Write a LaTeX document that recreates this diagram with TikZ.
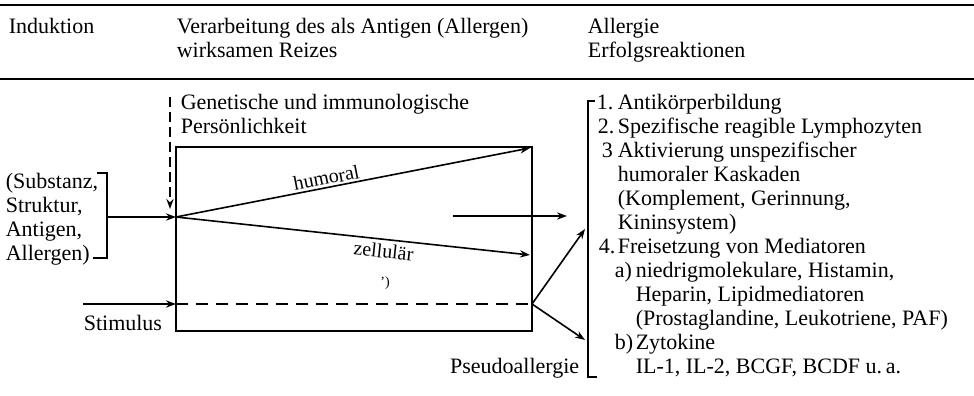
\documentclass[tikz,border=0pt]{standalone}
\usepackage{fontspec}
\setmainfont{Liberation Serif}
\usetikzlibrary{arrows.meta}

\begin{document}
\begin{tikzpicture}[x=0.5pt,y=-0.5pt,line width=0.8pt,
  >={Stealth[length=5pt,width=3.6pt]},
  every node/.style={font=\fontsize{11}{12}\selectfont,inner sep=0pt,anchor=base west},
  pathlabel/.style={font=\fontsize{10}{12}\selectfont,sloped},
  longdash/.style={dash pattern=on 6pt off 4pt},
  shortdash/.style={dash pattern=on 5pt off 2.5pt}]
  \useasboundingbox (0,0) rectangle (974,396);
  % the table head
  \draw (0,5) -- (974,5);
  \draw (0,79) -- (974,79);
  \node (hind) at (8,33) {Induktion};
  \node (hver) at (176,33) {Verarbeitung des als Antigen (Allergen)};
  \node (hwir) at (176,57) {wirksamen Reizes};
  \node (hall) at (587,33) {Allergie};
  \node (herf) at (587,57) {Erfolgsreaktionen};
  % the inducing substance
  \node (sub1) at (5,188) {(Substanz,};
  \node (sub2) at (5,212) {Struktur,};
  \node (sub3) at (5,236) {Antigen,};
  \node (sub4) at (5,260) {Allergen)};
  \draw (97,173) -- (107,173) -- (107,258) -- (93,258);
  \node (stim) at (83,330) {Stimulus};
  % the processing box
  \node (gen1) at (180,109) {Genetische und immunologische};
  \node (gen2) at (180,133) {Persönlichkeit};
  \draw (176,147) rectangle (532,331);
  \coordinate (subr) at (107,217);
  \coordinate (in) at (176,217);
  \coordinate (gtop) at (170,97);
  \coordinate (gend) at (170,209);
  \coordinate (hum) at (530,148);
  \coordinate (zel) at (530,255);
  \coordinate (stl) at (83,304);
  \coordinate (sin) at (176,304);
  \coordinate (fork) at (532,304);
  \coordinate (mids) at (453,216);
  \coordinate (mide) at (567,216);
  \coordinate (up) at (585,229);
  \coordinate (down) at (585,340);
  \draw[->,shortdash] (gtop) -- (gend);
  \draw[->] (subr) -- (in);
  \draw[->] (in) -- (hum) node[pathlabel,pos=0.43,above=1pt] (humlab) {humoral};
  \draw[->] (in) -- (zel) node[pathlabel,pos=0.59,below=2pt] (zellab) {zellulär};
  \node[font=\fontsize{7}{8}\selectfont,anchor=center] (mark) at (385,283) {’)};
  \draw[->] (mids) -- (mide);
  \draw[->] (stl) -- (sin);
  \draw[longdash] (sin) -- (fork);
  \draw[->] (fork) -- (up);
  \draw[->] (fork) -- (down);
  \node[anchor=base east] (pseudo) at (580,373) {Pseudoallergie};
  % the reactions
  \draw (595,101) -- (588,101) -- (588,377) -- (597,377);
  \node (r1) at (596,109) {\makebox[10.5pt][l]{1.}Antikörperbildung};
  \node (r2) at (597,133) {\makebox[10pt][l]{2.}Spezifische reagible Lymphozyten};
  \node (r3) at (601,157) {\makebox[8pt][l]{3}Aktivierung unspezifischer};
  \node (r3b) at (617,181) {humoraler Kaskaden};
  \node (r3c) at (617,205) {(Komplement, Gerinnung,};
  \node (r3d) at (617,229) {Kininsystem)};
  \node (r4) at (598,253) {\makebox[9.5pt][l]{4.}Freisetzung von Mediatoren};
  \node (r4a) at (614,277) {\makebox[10.5pt][l]{a)}niedrigmolekulare, Histamin,};
  \node (r4b) at (635,301) {Heparin, Lipidmediatoren};
  \node (r4c) at (635,325) {(Prostaglandine, Leukotriene, PAF)};
  \node (r4d) at (614,349) {\makebox[10.5pt][l]{b)}Zytokine};
  \node (r4e) at (635,373) {IL-1, IL-2, BCGF, BCDF u.\,a.};
\end{tikzpicture}
\end{document}
